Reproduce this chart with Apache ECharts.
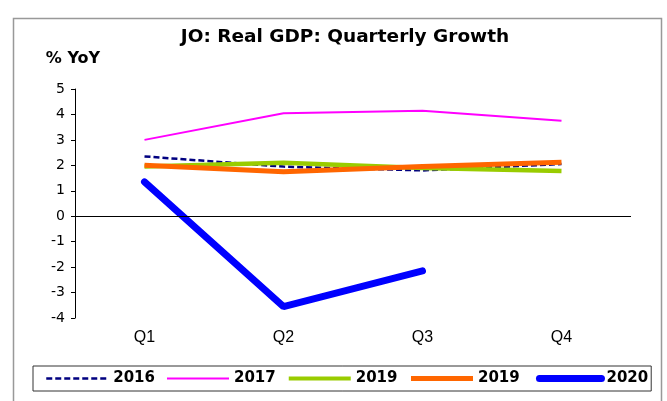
<!DOCTYPE html>
<html>
<head>
<meta charset="utf-8">
<script src="https://cdn.jsdelivr.net/npm/echarts@6/dist/echarts.min.js"></script>
<style>
  html, body { margin: 0; padding: 0; background: #fff; }
  #main { width: 667px; height: 401px; }
</style>
</head>
<body>
<div id="main"></div>
<script>
var quarters = ['Q1', 'Q2', 'Q3', 'Q4'];
var y2016 = [2.35, 1.95, 1.8, 2.05];
var y2017 = [3.0, 4.05, 4.15, 3.75];
var y2019a = [1.95, 2.1, 1.9, 1.78];
var y2019b = [2.0, 1.75, 1.95, 2.12];
var y2020 = [1.35, -3.55, -2.15, null];

var myChart = echarts.init(document.getElementById('main'));
var sans = 'Liberation Sans, Arial, sans-serif';
var wide = 'DejaVu Sans, sans-serif';

var option = {
  animation: false,
  textStyle: { fontFamily: sans },
  graphic: [
    {
      type: 'rect',
      shape: { x: 13.5, y: 18.5, width: 648, height: 400 },
      style: { fill: 'none', stroke: '#999', lineWidth: 1.5 },
      z: -1
    },
    {
      type: 'text',
      x: 345, y: 37,
      style: {
        text: 'JO: Real GDP: Quarterly Growth', font: 'bold 18.5px ' + wide,
        fill: '#000', align: 'center', verticalAlign: 'middle'
      }
    },
    {
      type: 'text',
      x: 73, y: 59,
      style: {
        text: '% YoY', font: 'bold 16px ' + wide,
        fill: '#000', align: 'center', verticalAlign: 'middle'
      }
    }
  ],
  legend: {
    left: 33,
    top: 366,
    padding: [5, 3, 5, 12],
    borderColor: '#333',
    borderWidth: 1,
    itemWidth: 62,
    itemHeight: 14,
    itemGap: 11,
    itemStyle: { opacity: 0 },
    textStyle: { fontSize: 15, fontWeight: 'bold', color: '#000', fontFamily: wide },
    data: [
      { name: '2016', lineStyle: { width: 2.5 } },
      { name: '2017', lineStyle: { width: 2 } },
      { name: '2019', lineStyle: { width: 4 } },
      { name: '2019 ', lineStyle: { width: 5 } },
      { name: '2020', lineStyle: { width: 7, cap: 'round' } }
    ]
  },
  grid: { left: 75, right: 36, top: 89, bottom: 83 },
  xAxis: {
    type: 'category',
    data: quarters,
    axisLine: { show: false },
    axisTick: { show: false },
    axisLabel: { fontSize: 16, color: '#000', margin: 12, fontFamily: sans }
  },
  yAxis: {
    type: 'value',
    min: -4,
    max: 5,
    interval: 1,
    splitLine: { show: false },
    axisLine: { show: true, lineStyle: { color: '#000', width: 1 } },
    axisTick: { show: true, length: 4, lineStyle: { color: '#000' } },
    axisLabel: { fontSize: 14, color: '#000', margin: 10, fontFamily: wide }
  },
  series: [
    {
      name: '2016', type: 'line', data: y2016, symbol: 'none',
      lineStyle: { color: '#000080', width: 2.5, type: [6, 3] },
      itemStyle: { color: '#000080' },
      markLine: {
        silent: true,
        symbol: 'none',
        label: { show: false },
        lineStyle: { color: '#000', width: 1, type: 'solid' },
        data: [{ yAxis: 0 }]
      }
    },
    {
      name: '2017', type: 'line', data: y2017, symbol: 'none',
      lineStyle: { color: '#FF00FF', width: 2 },
      itemStyle: { color: '#FF00FF' }
    },
    {
      name: '2019', type: 'line', data: y2019a, symbol: 'none',
      lineStyle: { color: '#99CC00', width: 4.5 },
      itemStyle: { color: '#99CC00' }
    },
    {
      name: '2019 ', type: 'line', data: y2019b, symbol: 'none',
      lineStyle: { color: '#FF6600', width: 5 },
      itemStyle: { color: '#FF6600' }
    },
    {
      name: '2020', type: 'line', data: y2020, symbol: 'none',
      lineStyle: { color: '#0000FF', width: 7, cap: 'round' },
      itemStyle: { color: '#0000FF' }
    }
  ]
};

myChart.setOption(option);
</script>
</body>
</html>
